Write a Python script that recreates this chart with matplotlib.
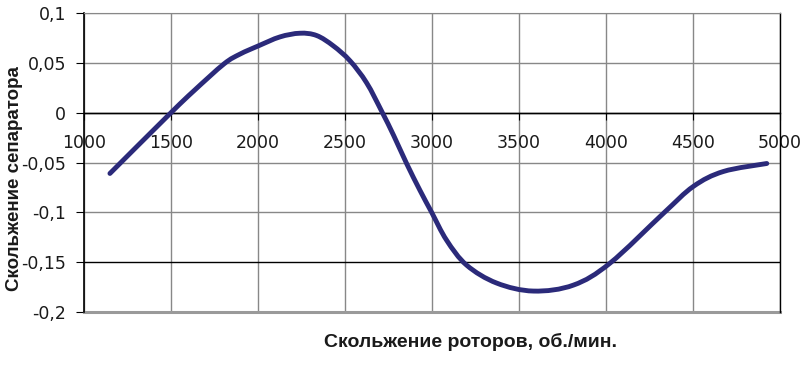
import numpy as np
import matplotlib
matplotlib.use("Agg")
import matplotlib.pyplot as plt
from matplotlib.path import Path
from matplotlib.patches import PathPatch

# data
rotor_slip = [1149, 1500, 1632, 1805, 1897, 2002, 2126, 2241, 2337, 2433, 2529, 2624, 2712,
              2780, 2854, 2931, 2998, 3084, 3199, 3372, 3583, 3813, 4023, 4330, 4502, 4675, 4924]
separator_slip = [-0.061, 0.0, 0.022, 0.049, 0.0588, 0.067, 0.076, 0.0797, 0.0774, 0.067, 0.052,
                  0.030, 0.001, -0.023, -0.051, -0.078, -0.100, -0.128, -0.153, -0.171, -0.179,
                  -0.173, -0.151, -0.101, -0.074, -0.059, -0.051]
x_ticks = [1000, 1500, 2000, 2500, 3000, 3500, 4000, 4500, 5000]
y_ticks = [-0.2, -0.15, -0.1, -0.05, 0, 0.05, 0.1]
x_label = "Скольжение роторов, об./мин."
y_label = "Скольжение сепаратора"

plt.rcParams['font.family'] = ['Liberation Sans', 'DejaVu Sans']

fig = plt.figure(figsize=(8.03, 3.65), dpi=100)
ax = fig.add_axes([84/803, 1-312/365, (780-84)/803, (312-13)/365])
ax.set_xlim(1000, 5000)
ax.set_ylim(-0.2, 0.1)

# grid
for xv in x_ticks:
    ax.axvline(xv, color='#888888', lw=1.0, zorder=1)
for yv in y_ticks:
    c = '#000000' if yv in (0, -0.15) else '#888888'
    ax.axhline(yv, color=c, lw=1.0, zorder=1)

# smooth curve (Catmull-Rom -> cubic Bezier, like Excel smoothing)
ax_w = (780-84); ax_h = (312-13)
def to_px(x, y):
    return ((x-1000)/4000*ax_w, (y+0.2)/0.3*ax_h)
def to_data(px, py):
    return (px/ax_w*4000+1000, py/ax_h*0.3-0.2)
P = [to_px(x, y) for x, y in zip(rotor_slip, separator_slip)]
verts = [to_data(*P[0])]
codes = [Path.MOVETO]
n = len(P)
for i in range(n-1):
    p0 = P[i-1] if i > 0 else P[i]
    p1 = P[i]
    p2 = P[i+1]
    p3 = P[i+2] if i+2 < n else P[i+1]
    t = 1/6
    c1 = (p1[0] + (p2[0]-p0[0])*t, p1[1] + (p2[1]-p0[1])*t)
    c2 = (p2[0] - (p3[0]-p1[0])*t, p2[1] - (p3[1]-p1[1])*t)
    verts += [to_data(*c1), to_data(*c2), to_data(*p2)]
    codes += [Path.CURVE4]*3
patch = PathPatch(Path(verts, codes), facecolor='none', edgecolor='#2b2a7a', lw=3.5,
                  capstyle='round', joinstyle='round', zorder=3)
ax.add_patch(patch)

# spines
ax.spines['left'].set_color('black')
ax.spines['left'].set_linewidth(1.2)
ax.spines['right'].set_color('black')
ax.spines['right'].set_linewidth(1.0)
ax.spines['top'].set_color('#888888')
ax.spines['bottom'].set_position(('data', 0))
ax.spines['bottom'].set_color('black')
ax.spines['bottom'].set_linewidth(1.0)
ax.axhline(-0.2, color='#9a9a9a', lw=2.2, zorder=2, clip_on=False)

ax.set_xticks(x_ticks)
ax.set_xticklabels([str(v) for v in x_ticks])
ax.set_yticks(y_ticks)
ax.set_yticklabels([f"{v:g}".replace('.', ',') for v in y_ticks])
ax.tick_params(axis='x', direction='out', length=5, pad=10, labelsize=12.5, colors='black')
ax.tick_params(axis='y', direction='out', length=6, pad=7, labelsize=12.5, colors='black')
for lab in ax.get_xticklabels() + ax.get_yticklabels():
    lab.set_color('#1a1a1a')
    lab.set_family(['DejaVu Sans'])

fig.text(471/803, 1-342/365, x_label, ha='center', va='center', fontsize=14, fontweight='bold',
         color='#1a1a1a')
fig.text(15/803, 1-179/365, y_label, ha='center', va='center', rotation=90, fontsize=13.5,
         fontweight='bold', color='#1a1a1a')

fig.savefig('out.png', dpi=100)
